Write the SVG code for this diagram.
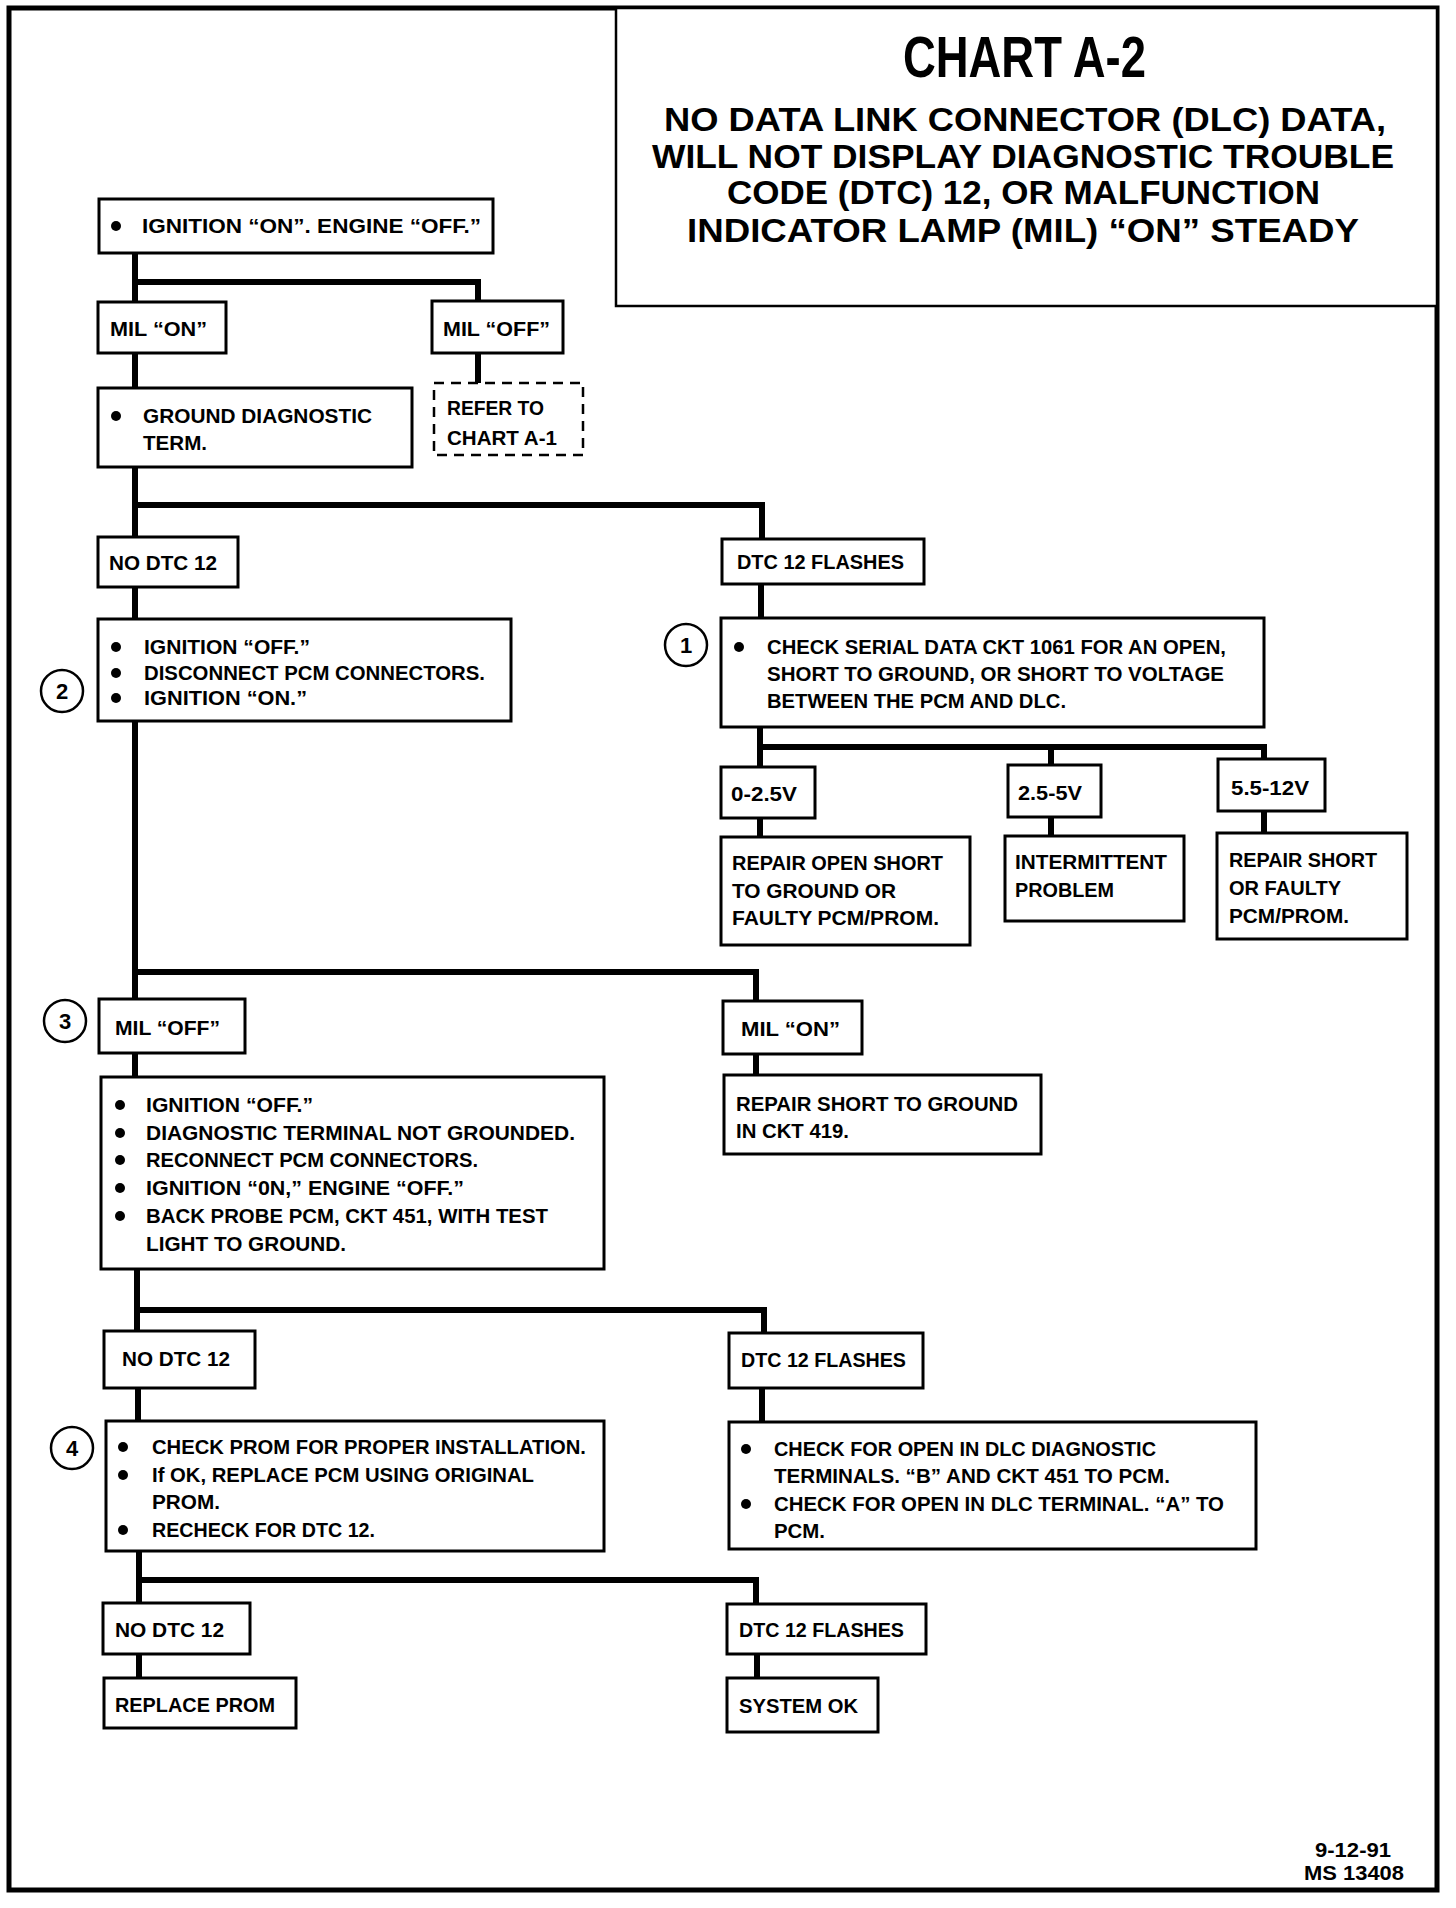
<svg xmlns="http://www.w3.org/2000/svg" width="1456" height="1908" viewBox="0 0 1456 1908">
<style>
.box{fill:#fff;stroke:#000;stroke-width:3}
.dash{fill:#fff;stroke:#000;stroke-width:2.5;stroke-dasharray:10 7}
.conn{fill:none;stroke:#000;stroke-width:6;stroke-linejoin:miter;stroke-linecap:square}
.t{font-family:"Liberation Sans",Arial,sans-serif;font-weight:bold;font-size:21px;fill:#000}
.num{font-family:"Liberation Sans",Arial,sans-serif;font-weight:bold;font-size:22px;fill:#000;text-anchor:middle}
.ttl{font-family:"Liberation Sans",Arial,sans-serif;font-weight:bold;fill:#000}
.circ{fill:#fff;stroke:#000;stroke-width:2.5}
.dot{fill:#000}
</style>
<rect x="0" y="0" width="1456" height="1908" fill="#fff"/>
<rect x="9" y="8" width="1428" height="1882" fill="none" stroke="#000" stroke-width="5"/>
<g id="title">
<rect x="616" y="8" width="821" height="298" fill="#fff" stroke="#000" stroke-width="2.5"/>
<text class="ttl" x="903" y="77" font-size="57" textLength="243" lengthAdjust="spacingAndGlyphs">CHART A-2</text>
<text class="ttl" x="664" y="131" font-size="34" textLength="722" lengthAdjust="spacingAndGlyphs">NO DATA LINK CONNECTOR (DLC) DATA,</text>
<text class="ttl" x="652" y="168" font-size="34" textLength="742" lengthAdjust="spacingAndGlyphs">WILL NOT DISPLAY DIAGNOSTIC TROUBLE</text>
<text class="ttl" x="727" y="204" font-size="34" textLength="593" lengthAdjust="spacingAndGlyphs">CODE (DTC) 12, OR MALFUNCTION</text>
<text class="ttl" x="687" y="242" font-size="34" textLength="672" lengthAdjust="spacingAndGlyphs">INDICATOR LAMP (MIL) “ON” STEADY</text>
</g>
<g id="connectors">
<path class="conn" d="M135 253 V302 M135 282 H478 V301"/>
<path class="conn" d="M135 353 V388"/>
<path class="conn" d="M478 353 V383"/>
<path class="conn" d="M135 467 V537 M135 505 H762 V539"/>
<path class="conn" d="M135 587 V619"/>
<path class="conn" d="M761 584 V618"/>
<path class="conn" d="M760 727 V767 M760 747 H1264 V759 M1051 747 V765"/>
<path class="conn" d="M760 818 V837 M1051 817 V836 M1264 811 V833"/>
<path class="conn" d="M135 721 V999 M135 972 H756 V1001"/>
<path class="conn" d="M135 1053 V1077"/>
<path class="conn" d="M756 1054 V1075"/>
<path class="conn" d="M137 1269 V1331 M137 1310 H764 V1333"/>
<path class="conn" d="M138 1388 V1421"/>
<path class="conn" d="M762 1388 V1422"/>
<path class="conn" d="M139 1551 V1603 M139 1580 H756 V1604"/>
<path class="conn" d="M139 1654 V1678"/>
<path class="conn" d="M757 1654 V1678"/>
</g>
<g id="n_start">
<rect class="box" x="99" y="199" width="394" height="54"/>
<circle class="dot" cx="116" cy="226" r="5"/>
<text class="t" x="142" y="233" textLength="339" lengthAdjust="spacingAndGlyphs">IGNITION “ON”. ENGINE “OFF.”</text>
</g>
<g id="n_mil_on">
<rect class="box" x="98" y="302" width="128" height="51"/>
<text class="t" x="110" y="336" textLength="97" lengthAdjust="spacingAndGlyphs">MIL “ON”</text>
</g>
<g id="n_mil_off">
<rect class="box" x="432" y="301" width="131" height="52"/>
<text class="t" x="443" y="336" textLength="107" lengthAdjust="spacingAndGlyphs">MIL “OFF”</text>
</g>
<g id="n_ground">
<rect class="box" x="98" y="388" width="314" height="79"/>
<circle class="dot" cx="116" cy="416" r="5"/>
<text class="t" x="143" y="423" textLength="229" lengthAdjust="spacingAndGlyphs">GROUND DIAGNOSTIC</text>
<text class="t" x="143" y="450" textLength="64" lengthAdjust="spacingAndGlyphs">TERM.</text>
</g>
<g id="n_refer">
<rect class="dash" x="434" y="383" width="149" height="72"/>
<text class="t" x="447" y="415" textLength="97" lengthAdjust="spacingAndGlyphs">REFER TO</text>
<text class="t" x="447" y="445" textLength="110" lengthAdjust="spacingAndGlyphs">CHART A-1</text>
</g>
<g id="n_nodtc1">
<rect class="box" x="98" y="537" width="140" height="50"/>
<text class="t" x="109" y="570" textLength="108" lengthAdjust="spacingAndGlyphs">NO DTC 12</text>
</g>
<g id="n_dtcfl1">
<rect class="box" x="722" y="539" width="202" height="45"/>
<text class="t" x="737" y="569" textLength="167" lengthAdjust="spacingAndGlyphs">DTC 12 FLASHES</text>
</g>
<g id="n_step2">
<rect class="box" x="98" y="619" width="413" height="102"/>
<circle class="dot" cx="116" cy="647" r="5"/>
<circle class="dot" cx="116" cy="673" r="5"/>
<circle class="dot" cx="116" cy="698" r="5"/>
<text class="t" x="144" y="654" textLength="166" lengthAdjust="spacingAndGlyphs">IGNITION “OFF.”</text>
<text class="t" x="144" y="680" textLength="341" lengthAdjust="spacingAndGlyphs">DISCONNECT PCM CONNECTORS.</text>
<text class="t" x="144" y="705" textLength="163" lengthAdjust="spacingAndGlyphs">IGNITION “ON.”</text>
</g>
<g id="n_c2">
<circle class="circ" cx="62" cy="691" r="21"/>
<text class="num" x="62" y="699">2</text>
</g>
<g id="n_step1">
<rect class="box" x="721" y="618" width="543" height="109"/>
<circle class="dot" cx="739" cy="647" r="5"/>
<text class="t" x="767" y="654" textLength="459" lengthAdjust="spacingAndGlyphs">CHECK SERIAL DATA CKT 1061 FOR AN OPEN,</text>
<text class="t" x="767" y="681" textLength="457" lengthAdjust="spacingAndGlyphs">SHORT TO GROUND, OR SHORT TO VOLTAGE</text>
<text class="t" x="767" y="708" textLength="299" lengthAdjust="spacingAndGlyphs">BETWEEN THE PCM AND DLC.</text>
</g>
<g id="n_c1">
<circle class="circ" cx="686" cy="645" r="21"/>
<text class="num" x="686" y="653">1</text>
</g>
<g id="n_v1">
<rect class="box" x="721" y="767" width="94" height="51"/>
<text class="t" x="731" y="801" textLength="66" lengthAdjust="spacingAndGlyphs">0-2.5V</text>
</g>
<g id="n_v2">
<rect class="box" x="1008" y="765" width="93" height="52"/>
<text class="t" x="1018" y="800" textLength="64" lengthAdjust="spacingAndGlyphs">2.5-5V</text>
</g>
<g id="n_v3">
<rect class="box" x="1218" y="759" width="107" height="52"/>
<text class="t" x="1231" y="795" textLength="78" lengthAdjust="spacingAndGlyphs">5.5-12V</text>
</g>
<g id="n_r1">
<rect class="box" x="721" y="837" width="249" height="108"/>
<text class="t" x="732" y="870" textLength="211" lengthAdjust="spacingAndGlyphs">REPAIR OPEN SHORT</text>
<text class="t" x="732" y="898" textLength="164" lengthAdjust="spacingAndGlyphs">TO GROUND OR</text>
<text class="t" x="732" y="925" textLength="207" lengthAdjust="spacingAndGlyphs">FAULTY PCM/PROM.</text>
</g>
<g id="n_r2">
<rect class="box" x="1005" y="836" width="179" height="85"/>
<text class="t" x="1015" y="869" textLength="152" lengthAdjust="spacingAndGlyphs">INTERMITTENT</text>
<text class="t" x="1015" y="897" textLength="99" lengthAdjust="spacingAndGlyphs">PROBLEM</text>
</g>
<g id="n_r3">
<rect class="box" x="1217" y="833" width="190" height="106"/>
<text class="t" x="1229" y="867" textLength="148" lengthAdjust="spacingAndGlyphs">REPAIR SHORT</text>
<text class="t" x="1229" y="895" textLength="112" lengthAdjust="spacingAndGlyphs">OR FAULTY</text>
<text class="t" x="1229" y="923" textLength="120" lengthAdjust="spacingAndGlyphs">PCM/PROM.</text>
</g>
<g id="n_c3">
<circle class="circ" cx="65" cy="1021" r="21"/>
<text class="num" x="65" y="1029">3</text>
</g>
<g id="n_mil_off2">
<rect class="box" x="99" y="999" width="146" height="54"/>
<text class="t" x="115" y="1035" textLength="105" lengthAdjust="spacingAndGlyphs">MIL “OFF”</text>
</g>
<g id="n_mil_on2">
<rect class="box" x="723" y="1001" width="139" height="53"/>
<text class="t" x="741" y="1036" textLength="99" lengthAdjust="spacingAndGlyphs">MIL “ON”</text>
</g>
<g id="n_step3">
<rect class="box" x="101" y="1077" width="503" height="192"/>
<circle class="dot" cx="120" cy="1105" r="5"/>
<circle class="dot" cx="120" cy="1133" r="5"/>
<circle class="dot" cx="120" cy="1160" r="5"/>
<circle class="dot" cx="120" cy="1188" r="5"/>
<circle class="dot" cx="120" cy="1216" r="5"/>
<text class="t" x="146" y="1112" textLength="167" lengthAdjust="spacingAndGlyphs">IGNITION “OFF.”</text>
<text class="t" x="146" y="1140" textLength="429" lengthAdjust="spacingAndGlyphs">DIAGNOSTIC TERMINAL NOT GROUNDED.</text>
<text class="t" x="146" y="1167" textLength="332" lengthAdjust="spacingAndGlyphs">RECONNECT PCM CONNECTORS.</text>
<text class="t" x="146" y="1195" textLength="318" lengthAdjust="spacingAndGlyphs">IGNITION “0N,” ENGINE “OFF.”</text>
<text class="t" x="146" y="1223" textLength="402" lengthAdjust="spacingAndGlyphs">BACK PROBE  PCM, CKT 451, WITH TEST</text>
<text class="t" x="146" y="1251" textLength="200" lengthAdjust="spacingAndGlyphs">LIGHT TO GROUND.</text>
</g>
<g id="n_repair419">
<rect class="box" x="724" y="1075" width="317" height="79"/>
<text class="t" x="736" y="1111" textLength="282" lengthAdjust="spacingAndGlyphs">REPAIR SHORT TO GROUND</text>
<text class="t" x="736" y="1138" textLength="113" lengthAdjust="spacingAndGlyphs">IN CKT 419.</text>
</g>
<g id="n_nodtc2">
<rect class="box" x="104" y="1331" width="151" height="57"/>
<text class="t" x="122" y="1366" textLength="108" lengthAdjust="spacingAndGlyphs">NO DTC 12</text>
</g>
<g id="n_dtcfl2">
<rect class="box" x="729" y="1333" width="194" height="55"/>
<text class="t" x="741" y="1367" textLength="165" lengthAdjust="spacingAndGlyphs">DTC 12 FLASHES</text>
</g>
<g id="n_c4">
<circle class="circ" cx="72" cy="1448" r="21"/>
<text class="num" x="72" y="1456">4</text>
</g>
<g id="n_step4">
<rect class="box" x="106" y="1421" width="498" height="130"/>
<circle class="dot" cx="123" cy="1447" r="5"/>
<circle class="dot" cx="123" cy="1475" r="5"/>
<circle class="dot" cx="123" cy="1530" r="5"/>
<text class="t" x="152" y="1454" textLength="434" lengthAdjust="spacingAndGlyphs">CHECK PROM FOR PROPER INSTALLATION.</text>
<text class="t" x="152" y="1482" textLength="382" lengthAdjust="spacingAndGlyphs">If OK, REPLACE PCM USING ORIGINAL</text>
<text class="t" x="152" y="1509" textLength="68" lengthAdjust="spacingAndGlyphs">PROM.</text>
<text class="t" x="152" y="1537" textLength="223" lengthAdjust="spacingAndGlyphs">RECHECK FOR DTC 12.</text>
</g>
<g id="n_open">
<rect class="box" x="729" y="1422" width="527" height="127"/>
<circle class="dot" cx="746" cy="1449" r="5"/>
<circle class="dot" cx="746" cy="1504" r="5"/>
<text class="t" x="774" y="1456" textLength="382" lengthAdjust="spacingAndGlyphs">CHECK FOR OPEN IN DLC DIAGNOSTIC</text>
<text class="t" x="774" y="1483" textLength="396" lengthAdjust="spacingAndGlyphs">TERMINALS. “B” AND CKT 451 TO PCM.</text>
<text class="t" x="774" y="1511" textLength="450" lengthAdjust="spacingAndGlyphs">CHECK FOR OPEN IN DLC TERMINAL.  “A” TO</text>
<text class="t" x="774" y="1538" textLength="51" lengthAdjust="spacingAndGlyphs">PCM.</text>
</g>
<g id="n_nodtc3">
<rect class="box" x="103" y="1603" width="147" height="51"/>
<text class="t" x="115" y="1637" textLength="109" lengthAdjust="spacingAndGlyphs">NO DTC 12</text>
</g>
<g id="n_dtcfl3">
<rect class="box" x="727" y="1604" width="199" height="50"/>
<text class="t" x="739" y="1637" textLength="165" lengthAdjust="spacingAndGlyphs">DTC 12 FLASHES</text>
</g>
<g id="n_replace">
<rect class="box" x="104" y="1678" width="192" height="50"/>
<text class="t" x="115" y="1712" textLength="160" lengthAdjust="spacingAndGlyphs">REPLACE PROM</text>
</g>
<g id="n_sysok">
<rect class="box" x="727" y="1678" width="151" height="54"/>
<text class="t" x="739" y="1713" textLength="119" lengthAdjust="spacingAndGlyphs">SYSTEM OK</text>
</g>
<g id="footer">
<text class="t" x="1315" y="1857" textLength="76" lengthAdjust="spacingAndGlyphs">9-12-91</text>
<text class="t" x="1304" y="1880" textLength="100" lengthAdjust="spacingAndGlyphs">MS 13408</text>
</g>
</svg>
